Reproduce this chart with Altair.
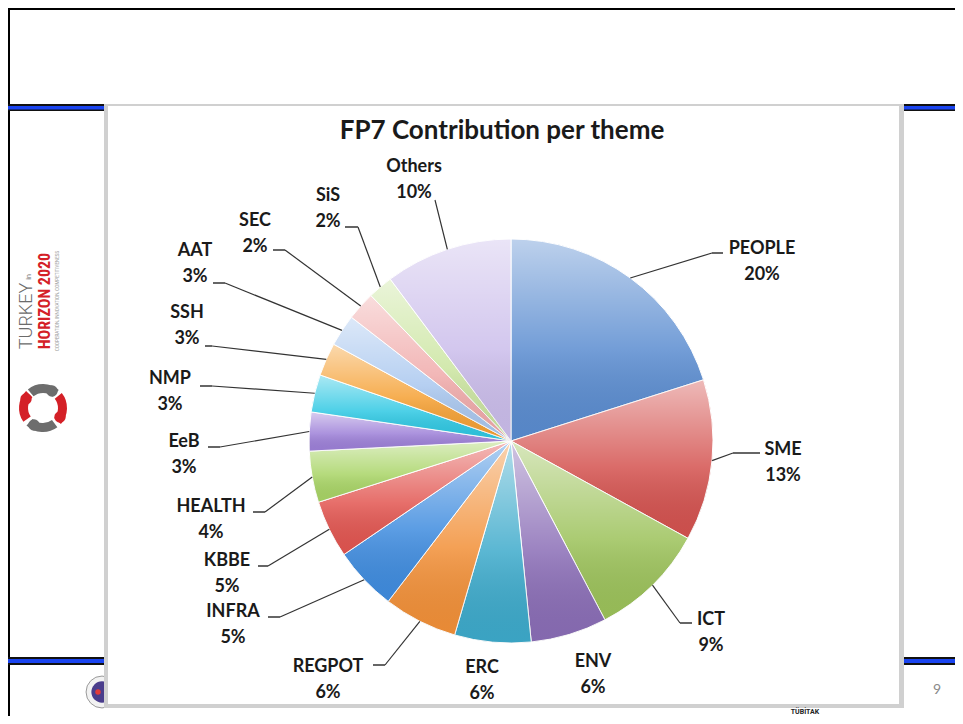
import math
import altair as alt
import pandas as pd

# ---------------- data ----------------
themes = ["PEOPLE", "SME", "ICT", "ENV", "ERC", "REGPOT", "INFRA", "KBBE",
          "HEALTH", "EeB", "NMP", "SSH", "AAT", "SEC", "SiS", "Others"]
shares = [20.1, 12.9, 9.3, 6.1, 6.1, 5.9, 5.1, 4.6,
          4.1, 3.1, 3.0, 2.65, 2.55, 2.3, 2.0, 10.2]

# ---------------- styles ----------------
slice_colors = ["#5A8CD0", "#D4524F", "#9CC25A", "#8A6DB6", "#3DAACB", "#F29038",
                "#3F8CDF", "#E25550", "#A8D465", "#9D80D8", "#2EC8E3", "#F5A033",
                "#A9C7EF", "#F0AAAA", "#CBE5A0", "#CBBDEB"]

# ---------------- label layout: px offsets from the pie centre (y down) ----------------
label_dx = [251, 272, 200, 82, -29, -183, -278, -284, -300, -327, -341, -324, -316, -256, -183, -97]
label_dy = [-192, 9, 179, 221, 227, 226, 171, 120, 66, 1, -62, -128, -190, -220, -245, -274]
elbow_dx = [201, 222, 169, 0, 0, -126, -231, -243, -246, -291, -299, -299, -286, -226, -153, -76]
elbow_dy = [-188, 12, 182, 0, 0, 224, 176, 125, 71, 6, -55, -95, -158, -191, -214, -241]
tail_dx = [212, 249, 181, 0, 0, -138, -243, -253, -258, -303, -311, -306, -298, -238, -166, -76]
has_leader = [1, 1, 1, 0, 0, 1, 1, 1, 1, 1, 1, 1, 1, 1, 1, 1]

W, H = 947, 708          # whole drawing (view) size
CX, CY = 503, 433        # pie centre inside the view
R = 202                  # pie radius (px)
FONT = "Lato"
TEXT_COLOR = "#1a1a1a"

df = pd.DataFrame({
    "theme": themes, "share": shares, "order": list(range(len(themes))),
    "lx": label_dx, "ly": label_dy, "ex": elbow_dx, "ey": elbow_dy,
    "tx": tail_dx, "leader": has_leader,
})

XS = alt.Scale(domain=[-CX, W - CX], range=[0, W], nice=False, zero=False)
YS = alt.Scale(domain=[-CY, H - CY], range=[0, H], nice=False, zero=False)
TS = alt.Scale(domain=[0, 1], range=[0, 2 * math.pi])


def base():
    return (alt.Chart()
            .transform_window(cum="sum(share)", sort=[alt.SortField("order")], frame=[None, 0])
            .transform_joinaggregate(total="sum(share)")
            .transform_calculate(s0="(datum.cum - datum.share) / datum.total")
            .transform_calculate(s1="datum.cum / datum.total")
            .transform_calculate(ang="PI * (datum.s0 + datum.s1)")
            .transform_calculate(p1x=f"{R} * sin(datum.ang)")
            .transform_calculate(p1y=f"-{R} * cos(datum.ang)")
            .transform_calculate(pct="round(100 * datum.share / datum.total) + '%'"))


def X(f):
    return alt.X(f, type="quantitative", scale=XS, axis=None)


def Y(f):
    return alt.Y(f, type="quantitative", scale=YS, axis=None)


centre = dict(x=alt.XDatum(0, type="quantitative", scale=XS, axis=None),
              y=alt.YDatum(0, type="quantitative", scale=YS, axis=None))
theta = dict(theta=alt.Theta("s0:Q", scale=TS), theta2="s1:Q")

pie = base().mark_arc(outerRadius=R, stroke="white", strokeWidth=1).encode(
    color=alt.Color("theme:N", scale=alt.Scale(domain=themes, range=slice_colors), legend=None),
    **theta, **centre)

shine = base().mark_arc(
    outerRadius=R,
    fill=alt.Gradient(gradient="linear", x1=0, y1=0, x2=0, y2=1,
                      stops=[alt.GradientStop(color="rgba(255,255,255,0.6)", offset=0),
                             alt.GradientStop(color="rgba(255,255,255,0.15)", offset=0.55),
                             alt.GradientStop(color="rgba(0,0,0,0.04)", offset=1)]),
).encode(**theta, **centre)

leader1 = base().transform_filter("datum.leader == 1").mark_rule(
    color="#333333", strokeWidth=1.2).encode(
    x=X("p1x"), y=Y("p1y"), x2="ex:Q", y2="ey:Q")
leader2 = base().transform_filter("datum.leader == 1").mark_rule(
    color="#555555", strokeWidth=1.8).encode(
    x=X("ex"), y=Y("ey"), x2="tx:Q", y2="ey:Q")

names = base().mark_text(font=FONT, fontWeight="bold", fontSize=18, color=TEXT_COLOR,
                         align="center", baseline="middle").encode(
    x=X("lx"), y=Y("ly"), text="theme:N")
pcts = base().mark_text(font=FONT, fontWeight="bold", fontSize=18, color=TEXT_COLOR,
                        align="center", baseline="middle", dy=26).encode(
    x=X("lx"), y=Y("ly"), text="pct:N")


# ---------------- slide decoration ----------------
def cell():
    return alt.Chart(pd.DataFrame({"k": [0]}))


def rect(x, x2, y, y2, color):
    return cell().mark_rect(color=color).encode(
        x=alt.value(x), x2=alt.value(x2), y=alt.value(y), y2=alt.value(y2))


def label(txt, x, y, **kw):
    return cell().mark_text(text=txt, **kw).encode(x=alt.value(x), y=alt.value(y))


def dot(x, y, size, color, **kw):
    return cell().mark_circle(size=size, color=color, opacity=1, **kw).encode(
        x=alt.value(x), y=alt.value(y))


def ring(x, y, t0, t1, color):
    return cell().mark_arc(theta=t0, theta2=t1, innerRadius=15, outerRadius=24, color=color).encode(
        x=alt.value(x), y=alt.value(y))


BLUE = "#1a44f0"
LX, LY = 35, 400
deco = [
    rect(0, W, 0, 2, "#000000"),
    rect(0, 2, 0, H, "#000000"),
    rect(0, W, 96, 103, "#111111"), rect(0, W, 98, 101.5, BLUE),
    rect(0, W, 649, 657, "#111111"), rect(0, W, 651, 655, BLUE),
    dot(94, 684, 1018, "#f2f2f2", stroke="#9a9a9a", strokeWidth=1),
    dot(94, 684, 452, "#4a3d8c"),
    dot(90, 684, 30, "#e23a3a"),
    rect(96, 896, 96, 700, "#d0d0d0"),
    rect(100, 891, 98, 696, "#ffffff"),
    label("TURKEY", 19, 308, angle=270, font="Roboto", fontWeight=300, fontSize=18,
          color="#6b6b6b", align="center", baseline="middle"),
    label("in", 21, 269, angle=270, font="Roboto", fontSize=7, color="#6b6b6b",
          align="center", baseline="middle"),
    label("HORIZON 2020", 37, 293, angle=270,
          font="Liberation Sans Narrow, Roboto Condensed, sans-serif", fontWeight="bold",
          fontSize=16, color="#d42027", align="center", baseline="middle"),
    label("COOPERATION, INNOVATION, COMPETITIVENESS", 50, 293, angle=270, font="Roboto",
          fontSize=4.5, color="#9a9a9a", align="center", baseline="middle"),
    ring(LX, LY, 5.6, 7.0, "#6d6d6d"),
    ring(LX, LY, 0.9, 2.3, "#d42027"),
    ring(LX, LY, 2.5, 3.9, "#6d6d6d"),
    ring(LX, LY, 4.1, 5.5, "#d42027"),
    dot(LX - 17, LY - 9, 130, "#d42027"), dot(LX + 9, LY - 17, 130, "#6d6d6d"),
    dot(LX + 17, LY + 9, 130, "#d42027"), dot(LX - 9, LY + 17, 130, "#6d6d6d"),
    label("9", 929, 682, font=FONT, fontSize=14, color="#8a8a8a", align="center", baseline="middle"),
    label("TÜBİTAK", 797, 703.5, font="Roboto", fontWeight="bold", fontSize=7, color="#222222",
          align="center", baseline="middle"),
]

title = label("FP7 Contribution per theme", 494, 123, font=FONT, fontWeight="bold",
              fontSize=26, color=TEXT_COLOR, align="center", baseline="middle")

chart = alt.layer(*deco, pie, shine, leader1, leader2, names, pcts, title, data=df).properties(
    width=W, height=H, padding=0, autosize=alt.AutoSizeParams(type="none"),
    background="white",
).configure_view(stroke=None)

chart.save("out.html", embed_options={"renderer": "svg", "actions": False})
